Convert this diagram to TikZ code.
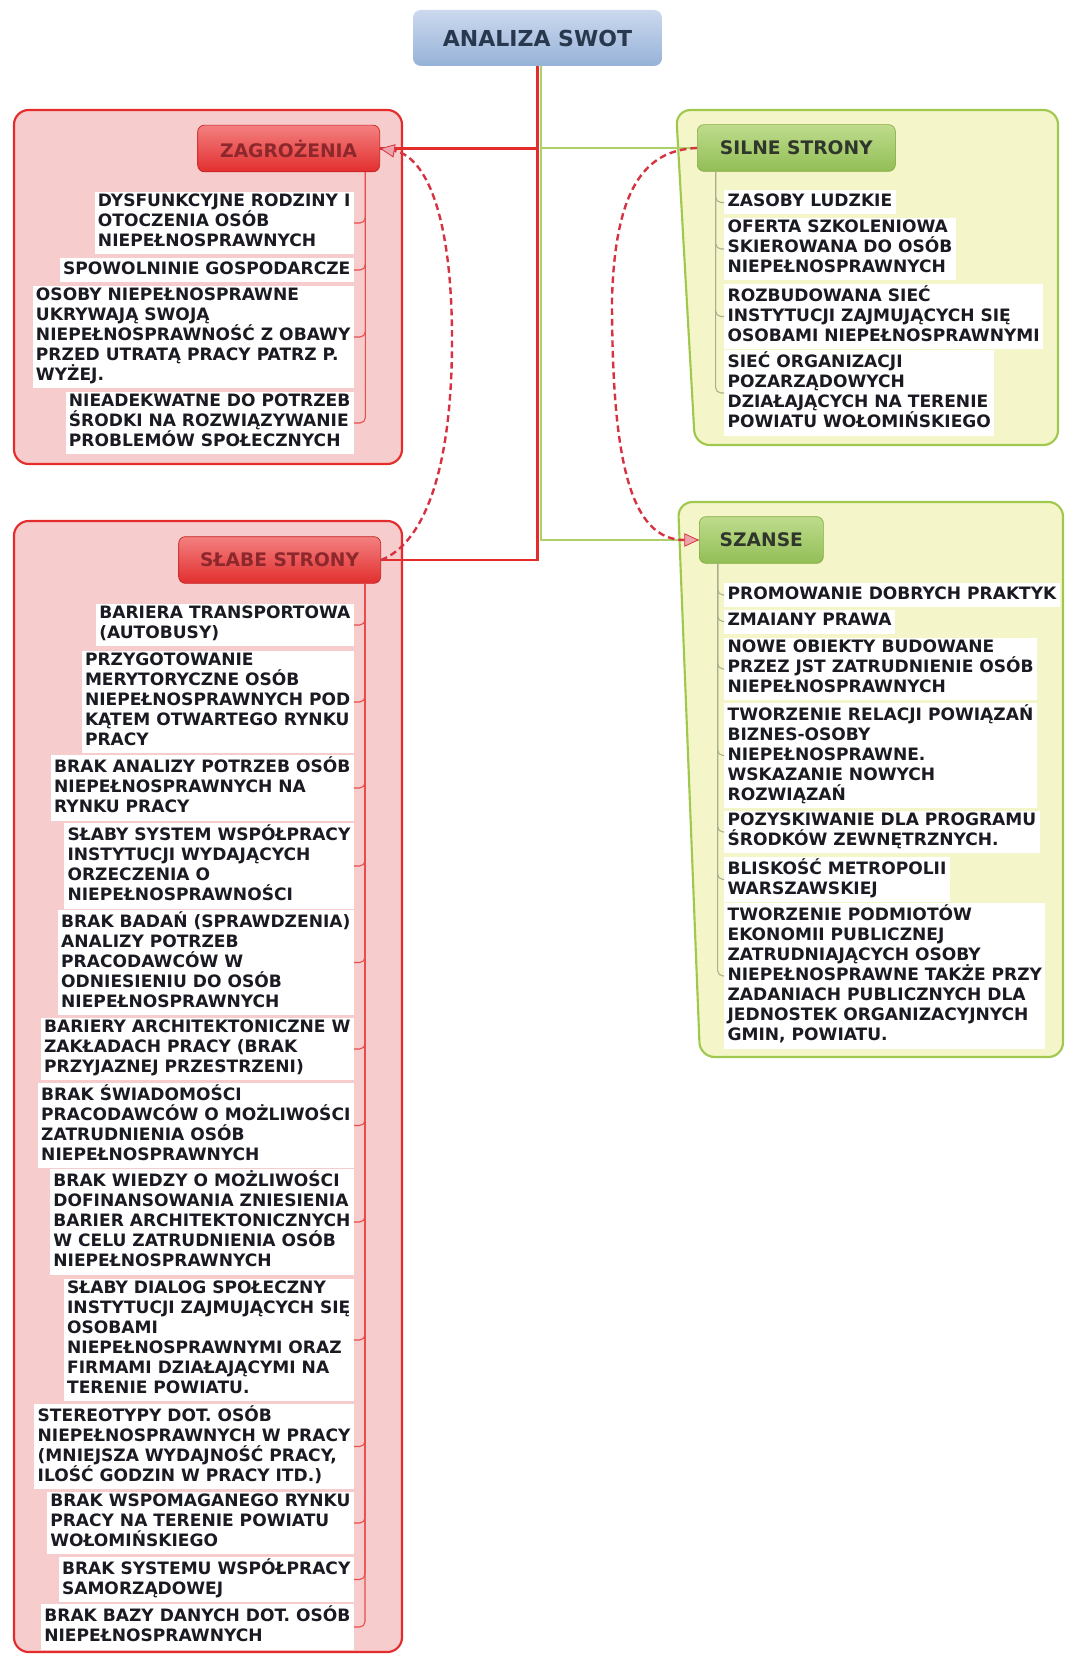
\documentclass[tikz,border=0pt]{standalone}
\usepackage{fontspec}
\setmainfont{DejaVu Sans}
\usetikzlibrary{arrows.meta}

\definecolor{swotred}{RGB}{228,44,44}
\definecolor{swotpink}{RGB}{246,204,204}
\definecolor{swotgreen}{RGB}{160,200,78}
\definecolor{swotlime}{RGB}{244,246,202}
\definecolor{swotdash}{RGB}{214,50,66}
\definecolor{leaftext}{RGB}{26,26,34}

\begin{document}
\begin{tikzpicture}[x=0.75pt,y=-0.75pt,
    rootbox/.style={rounded corners=6pt,top color={rgb,255:red,204;green,217;blue,238},
      bottom color={rgb,255:red,150;green,178;blue,216},text={rgb,255:red,40;green,56;blue,78},
      font=\fontsize{16.5}{18}\selectfont\bfseries,minimum width=186.75pt,minimum height=42pt},
    redhead/.style={draw=swotred!85!black,line width=0.5pt,rounded corners=5pt,
      top color={rgb,255:red,244;green,128;blue,128},bottom color={rgb,255:red,226;green,46;blue,46},
      text={rgb,255:red,140;green,40;blue,44},font=\fontsize{14}{16}\selectfont\bfseries,minimum height=35pt},
    greenhead/.style={draw=swotgreen!85!black,line width=0.5pt,rounded corners=5pt,
      top color={rgb,255:red,190;green,220;blue,140},bottom color={rgb,255:red,146;green,190;blue,86},
      text={rgb,255:red,48;green,54;blue,44},font=\fontsize{14}{16}\selectfont\bfseries,minimum height=35pt},
    redzone/.style={draw=swotred,fill=swotpink,line width=1.6pt,rounded corners=11pt},
    greenzone/.style={draw=swotgreen,fill=swotlime,line width=1.6pt,rounded corners=11pt},
    leaf/.style={fill=white,text=leaftext,align=left,inner xsep=2.5pt,inner ysep=1.5pt,
      font=\fontsize{12.8}{15}\selectfont\bfseries,
      execute at begin node=\strut,execute at end node=\strut},
    redlink/.style={draw=swotred,line width=1.6pt},
    greenlink/.style={draw=swotgreen!85!white,line width=1.3pt},
    redspine/.style={draw=swotred!85!white,line width=0.8pt,rounded corners=4pt},
    greenspine/.style={draw={rgb,255:red,170;green,176;blue,140},line width=0.8pt,rounded corners=4pt},
    relation/.style={draw=swotdash,line width=1.8pt,dash pattern=on 5pt off 3pt,
      -{Triangle[length=11pt,width=10pt,line width=0.6pt,fill=swotdash!45!white]}}]

  \useasboundingbox (0,0) rectangle (1065,1655);
  \fill[white] (0,0) rectangle (1065,1655);

  % group frames
  \draw[redzone] (14,110) rectangle (402,464);
  \draw[redzone] (14,521) rectangle (402,1652);
  \draw[greenzone] (676,110) -- (1058,110) -- (1058,445) -- (695,445) -- cycle;
  \draw[greenzone] (678,502) -- (1063,502) -- (1063,1057) -- (700,1057) -- cycle;

  % root and headers
  \node[rootbox] (root) at (537.5,38) {ANALIZA SWOT};
  \node[redhead,minimum width=136.5pt,anchor=east] (zag) at (380,148.5) {ZAGROŻENIA};
  \node[greenhead,minimum width=148.5pt,anchor=west] (silne) at (697,148) {SILNE STRONY};
  \node[redhead,minimum width=151.5pt,anchor=east] (slabe) at (381,560) {SŁABE STRONY};
  \node[greenhead,minimum width=93pt,anchor=west] (szanse) at (699,540) {SZANSE};

  % branches
  \draw[greenlink] ([xshift=2.5pt]root.south) |- (silne.west);
  \draw[greenlink] ([xshift=2.5pt]root.south) |- (szanse.west);
  \draw[redlink] (root.south) |- (zag.east);
  \draw[redlink] (root.south) |- (slabe.east);

  % relations
  \draw[relation] (slabe.east) .. controls (420,545) and (452,480) .. (452,340)
    .. controls (452,200) and (420,155) .. (zag.east);
  \draw[relation] (silne.west) .. controls (650,150) and (615,180) .. (612,300)
    .. controls (612,460) and (630,540) .. (szanse.west);

  % zagrozenia
  \coordinate (zs) at ([xshift=-11pt]zag.south east);
  \foreach[count=\i] \y/\t in {223/DYSFUNKCYJNE RODZINY I\\OTOCZENIA OSÓB\\NIEPEŁNOSPRAWNYCH,
    270/SPOWOLNINIE GOSPODARCZE,
    337/OSOBY NIEPEŁNOSPRAWNE\\UKRYWAJĄ SWOJĄ\\NIEPEŁNOSPRAWNOŚĆ Z OBAWY\\PRZED UTRATĄ PRACY PATRZ P.\\WYŻEJ.,
    423/NIEADEKWATNE DO POTRZEB\\ŚRODKI NA ROZWIĄZYWANIE\\PROBLEMÓW SPOŁECZNYCH} {
    \node[leaf,anchor=east] (z\i) at (354,\y) {\t};
    \draw[redspine] (zs) |- (z\i.east);
  }

  % silne strony
  \coordinate (ss) at ([xshift=14pt]silne.south west);
  \foreach[count=\i] \y/\t in {202.5/ZASOBY LUDZKIE,
    249/OFERTA SZKOLENIOWA\\SKIEROWANA DO OSÓB\\NIEPEŁNOSPRAWNYCH,
    316.5/ROZBUDOWANA SIEĆ\\INSTYTUCJI ZAJMUJĄCYCH SIĘ\\OSOBAMI NIEPEŁNOSPRAWNYMI,
    393/SIEĆ ORGANIZACJI\\POZARZĄDOWYCH\\DZIAŁAJĄCYCH NA TERENIE\\POWIATU WOŁOMIŃSKIEGO} {
    \node[leaf,anchor=west] (s\i) at (724,\y) {\t};
    \draw[greenspine] (ss) |- (s\i.west);
  }

  % slabe strony
  \coordinate (ws) at ([xshift=-12pt]slabe.south east);
  \foreach[count=\i] \y/\t in {625/BARIERA TRANSPORTOWA\\(AUTOBUSY),
    702/PRZYGOTOWANIE\\MERYTORYCZNE OSÓB\\NIEPEŁNOSPRAWNYCH POD\\KĄTEM OTWARTEGO RYNKU\\PRACY,
    788/BRAK ANALIZY POTRZEB OSÓB\\NIEPEŁNOSPRAWNYCH NA\\RYNKU PRACY,
    866/SŁABY SYSTEM WSPÓŁPRACY\\INSTYTUCJI WYDAJĄCYCH\\ORZECZENIA O\\NIEPEŁNOSPRAWNOŚCI,
    962.5/BRAK BADAŃ (SPRAWDZENIA)\\ANALIZY POTRZEB\\PRACODAWCÓW W\\ODNIESIENIU DO OSÓB\\NIEPEŁNOSPRAWNYCH,
    1049/BARIERY ARCHITEKTONICZNE W\\ZAKŁADACH PRACY (BRAK\\PRZYJAZNEJ PRZESTRZENI),
    1125.5/BRAK ŚWIADOMOŚCI\\PRACODAWCÓW O MOŻLIWOŚCI\\ZATRUDNIENIA OSÓB\\NIEPEŁNOSPRAWNYCH,
    1222/BRAK WIEDZY O MOŻLIWOŚCI\\DOFINANSOWANIA ZNIESIENIA\\BARIER ARCHITEKTONICZNYCH\\W CELU ZATRUDNIENIA OSÓB\\NIEPEŁNOSPRAWNYCH,
    1340/SŁABY DIALOG SPOŁECZNY\\INSTYTUCJI ZAJMUJĄCYCH SIĘ\\OSOBAMI\\NIEPEŁNOSPRAWNYMI ORAZ\\FIRMAMI DZIAŁAJĄCYMI NA\\TERENIE POWIATU.,
    1446.5/STEREOTYPY DOT. OSÓB\\NIEPEŁNOSPRAWNYCH W PRACY\\{(MNIEJSZA WYDAJNOŚĆ PRACY,}\\ILOŚĆ GODZIN W PRACY ITD.),
    1523/BRAK WSPOMAGANEGO RYNKU\\PRACY NA TERENIE POWIATU\\WOŁOMIŃSKIEGO,
    1579.5/BRAK SYSTEMU WSPÓŁPRACY\\SAMORZĄDOWEJ,
    1627/BRAK BAZY DANYCH DOT. OSÓB\\NIEPEŁNOSPRAWNYCH} {
    \node[leaf,anchor=east] (w\i) at (354,\y) {\t};
    \draw[redspine] (ws) |- (w\i.east);
  }

  % szanse
  \coordinate (os) at ([xshift=14pt]szanse.south west);
  \foreach[count=\i] \y/\t in {595/PROMOWANIE DOBRYCH PRAKTYK,
    621.5/ZMAIANY PRAWA,
    669/NOWE OBIEKTY BUDOWANE\\PRZEZ JST ZATRUDNIENIE OSÓB\\NIEPEŁNOSPRAWNYCH,
    755.5/TWORZENIE RELACJI POWIĄZAŃ\\BIZNES-OSOBY\\NIEPEŁNOSPRAWNE.\\WSKAZANIE NOWYCH\\ROZWIĄZAŃ,
    832/POZYSKIWANIE DLA PROGRAMU\\ŚRODKÓW ZEWNĘTRZNYCH.,
    879.5/BLISKOŚĆ METROPOLII\\WARSZAWSKIEJ,
    976/TWORZENIE PODMIOTÓW\\EKONOMII PUBLICZNEJ\\ZATRUDNIAJĄCYCH OSOBY\\NIEPEŁNOSPRAWNE TAKŻE PRZY\\ZADANIACH PUBLICZNYCH DLA\\JEDNOSTEK ORGANIZACYJNYCH\\{GMIN, POWIATU.}} {
    \node[leaf,anchor=west] (o\i) at (724,\y) {\t};
    \draw[greenspine] (os) |- (o\i.west);
  }
\end{tikzpicture}
\end{document}
